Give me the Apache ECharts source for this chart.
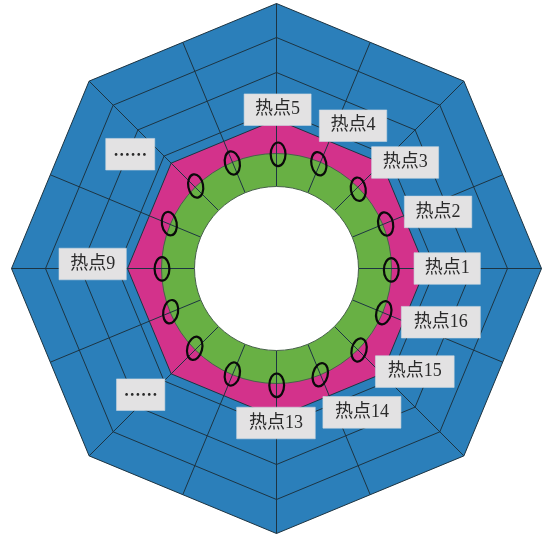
<!DOCTYPE html>
<html>
<head>
<meta charset="utf-8">
<style>html,body{margin:0;padding:0;background:#fff}#c{width:544px;height:535px}</style>
<script src="https://cdn.jsdelivr.net/npm/echarts@6/dist/echarts.min.js"></script>
</head>
<body>
<div id="c"></div>
<script>
// Octagon corner angles (degrees) and ring radii
var cornerAngles = [0, 45, 90, 135, 180, 225, 270, 315];
var blueRings = [265, 231, 196, 159];
var pinkRing = [149];
var greenOuter = [115];
var holeRadius = [82];
// Spokes: [angle, inner radius, outer radius]
var spokeAngles = [0, 22.5, 45, 67.5, 90, 112.5, 135, 157.5, 180, 202.5, 225, 247.5, 270, 292.5, 315, 337.5];
var spokeOuter = [265, 244.5, 265, 244.5, 265, 244.5, 265, 244.5, 265, 244.5, 265, 244.5, 265, 244.5, 265, 244.5];
// Hot spots, in order 1..16: radius, angle, tilt
var hotRadius = [114.8, 117.9, 113.9, 113, 114.2, 114.4, 115.5, 116.2, 114.5, 114.3, 114.3, 114.4, 116.8, 114.9, 116, 116];
var hotAngle = [359.3, 22.2, 44.1, 68, 89.2, 112.7, 134.4, 157.3, 180.2, 202.2, 224.3, 247.3, 270.1, 292.4, 315.4, 337.6];
var hotTilt = [0, 11, 8, 11, 0, 11, 11, 10, 0, -10, -14, -13, 0, -14, -13, -14];
// Labels: text, centre radius, centre angle, box width
var labelText = ['热点5', '热点4', '热点3', '热点2', '热点1', '热点16', '热点15', '热点14', '热点13', '……', '热点9', '……'];
var labelRadius = [158.8, 162, 166.7, 171.2, 170.7, 172.9, 172.5, 167.3, 154.5, 185.4, 183.9, 185.6];
var labelAngle = [89.6, 61.8, 39.5, 19.3, 0, 341.9, 323.3, 300.7, 269.8, 222.9, 178.6, 142];
var labelWidth = [67, 67.4, 67, 67.4, 66.3, 79, 78.7, 78, 78.6, 48.3, 67.3, 49];

var BLUE = '#2b7fba', PINK = '#d3328b', GREEN = '#68b044', LINE = '#1d3442';

function polySeries(radii, fill, stroke, z) {
  return {
    type: 'custom', coordinateSystem: 'polar', z: z, silent: true, clip: false,
    data: radii.map(function (r) { return [r, 0]; }),
    renderItem: function (params, api) {
      var r = api.value(0);
      var pts = cornerAngles.map(function (a) { return api.coord([r, a]); });
      return { type: 'polygon', shape: { points: pts },
        style: { fill: fill, stroke: stroke, lineWidth: 1 } };
    }
  };
}
function circleSeries(radii, fill, z) {
  return {
    type: 'custom', coordinateSystem: 'polar', z: z, silent: true, clip: false,
    data: radii.map(function (r) { return [r, 0]; }),
    renderItem: function (params, api) {
      var r = api.value(0);
      var c = api.coord([0, 0]);
      var edge = api.coord([r, 0]);
      return { type: 'circle', shape: { cx: c[0], cy: c[1], r: edge[0] - c[0] },
        style: { fill: fill, stroke: '#47614a', lineWidth: 1 } };
    }
  };
}

var option = {
  animation: false,
  backgroundColor: '#fff',
  polar: { center: [276.5, 268.5], radius: 280 },
  radiusAxis: { type: 'value', min: 0, max: 280, show: false },
  angleAxis: { type: 'value', min: 0, max: 360, startAngle: 0, clockwise: false, show: false },
  series: [
    polySeries(blueRings, BLUE, LINE, 1),
    polySeries(pinkRing, PINK, LINE, 2),
    circleSeries(greenOuter, GREEN, 3),
    circleSeries(holeRadius, '#ffffff', 6),
    {
      type: 'custom', coordinateSystem: 'polar', z: 5, silent: true, clip: false,
      data: spokeAngles.map(function (a, i) { return [a, holeRadius[0], spokeOuter[i]]; }),
      renderItem: function (params, api) {
        var a = api.value(0);
        var p0 = api.coord([api.value(1), a]);
        var p1 = api.coord([api.value(2), a]);
        return { type: 'line', shape: { x1: p0[0], y1: p0[1], x2: p1[0], y2: p1[1] },
          style: { stroke: LINE, lineWidth: 1 } };
      }
    },
    {
      type: 'custom', coordinateSystem: 'polar', z: 7, silent: true, clip: false,
      data: hotRadius.map(function (r, i) { return [r, hotAngle[i], hotTilt[i]]; }),
      renderItem: function (params, api) {
        var p = api.coord([api.value(0), api.value(1)]);
        return { type: 'ellipse', x: p[0], y: p[1], rotation: api.value(2) * Math.PI / 180,
          shape: { cx: 0, cy: 0, rx: 7.4, ry: 11.8 },
          style: { fill: 'none', stroke: '#0a0a0a', lineWidth: 2.2 } };
      }
    },
    {
      type: 'custom', coordinateSystem: 'polar', z: 8, silent: true, clip: false,
      data: labelRadius.map(function (r, i) { return [r, labelAngle[i], labelWidth[i]]; }),
      renderItem: function (params, api) {
        var p = api.coord([api.value(0), api.value(1)]);
        var w = api.value(2), h = 31.6;
        var txt = labelText[params.dataIndex];
        var dots = txt.charAt(0) === '…';
        return { type: 'group', children: [
          { type: 'rect', shape: { x: p[0] - w / 2, y: p[1] - h / 2, width: w, height: h },
            style: { fill: '#e3e2e3', stroke: '#c9d6e0', lineWidth: 0.6 } },
          { type: 'text', x: p[0], y: p[1],
            style: { text: txt, align: 'center', verticalAlign: 'middle',
              fill: '#2a2a2a', fontSize: dots ? 17 : 18, fontWeight: dots ? 'bold' : 'normal',
              fontFamily: dots ? '"Noto Sans CJK SC"' : '"Liberation Serif","Noto Sans CJK SC"' } }
        ] };
      }
    }
  ]
};
var chart = echarts.init(document.getElementById('c'), null, { renderer: 'canvas', width: 544, height: 535 });
chart.setOption(option);
</script>
</body>
</html>
